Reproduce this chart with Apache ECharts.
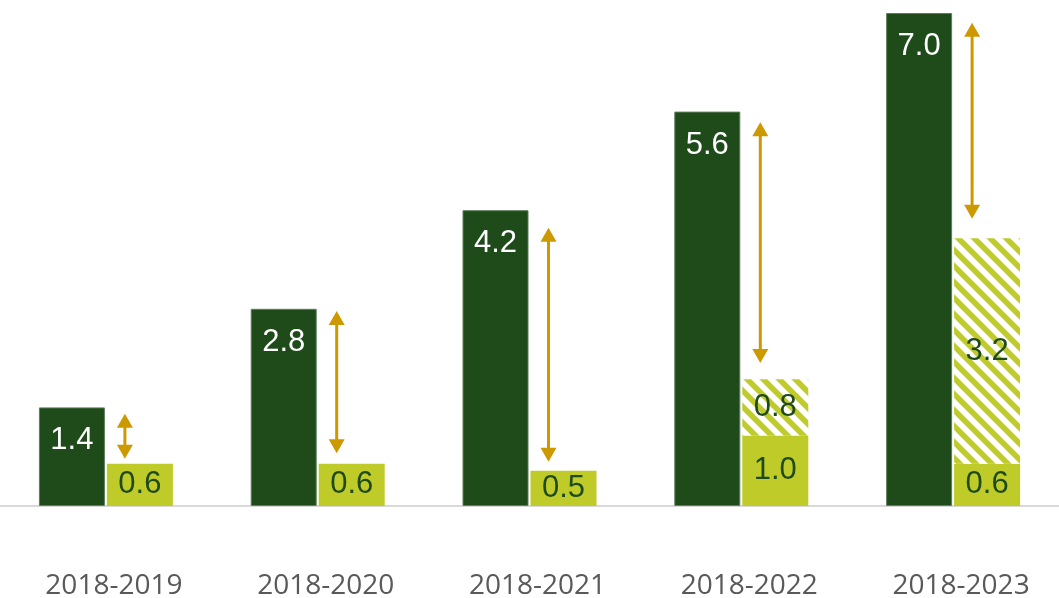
<!DOCTYPE html>
<html>
<head>
<meta charset="utf-8">
<script src="https://cdn.jsdelivr.net/npm/echarts@6/dist/echarts.min.js"></script>
<style>
html,body{margin:0;padding:0;background:#fff;}
#chart{width:1059px;height:598px;}
</style>
</head>
<body>
<div id="chart"></div>
<script>
// ---- data ----
var categories = ['2018-2019', '2018-2020', '2018-2021', '2018-2022', '2018-2023'];
var darkValues = [1.4, 2.8, 4.2, 5.6, 7.0];
var lightValues = [0.6, 0.6, 0.5, 1.0, 0.6];
var hatchedValues = [null, null, null, 0.8, 3.2];
// arrow annotations (value units): from top end to bottom end
var arrowTop = [1.31, 2.77, 3.95, 5.45, 6.86];
var arrowBottom = [0.67, 0.75, 0.63, 2.03, 4.08];

// ---- styles ----
var DARK = '#1F4B1B';
var LIGHT = '#BFCB29';
var GOLD = '#CC9900';

function hatchPattern() {
  var s = 16;
  var c = document.createElement('canvas');
  c.width = s; c.height = s;
  var ctx = c.getContext('2d');
  ctx.fillStyle = '#ffffff';
  ctx.fillRect(0, 0, s, s);
  ctx.strokeStyle = LIGHT;
  ctx.lineWidth = 5.5;
  [-s, 0, s].forEach(function (k) {
    ctx.beginPath();
    ctx.moveTo(-s, -s + k);
    ctx.lineTo(2 * s, 2 * s + k);
    ctx.stroke();
  });
  return c;
}

var arrowData = categories.map(function (c, i) { return [i, arrowTop[i], arrowBottom[i]]; });

var chart = echarts.init(document.getElementById('chart'), null, {renderer: 'canvas'});
var valueLabelFont = {fontFamily: 'Liberation Sans', fontSize: 31};

var option = {
  animation: false,
  backgroundColor: '#ffffff',
  grid: {left: 0, right: 0, top: 13, bottom: 92, containLabel: false, outerBoundsMode: 'none'},
  xAxis: {
    type: 'category',
    data: categories,
    axisLine: {show: true, lineStyle: {color: '#D9D9D9', width: 2}},
    axisTick: {show: false},
    axisLabel: {color: '#595959', fontFamily: 'Open Sans', fontSize: 28, margin: 66,
      padding: [0, 0, 0, 16]}
  },
  yAxis: {
    type: 'value', min: 0, max: 7,
    show: false,
    splitLine: {show: false}
  },
  series: [
    {
      name: 'dark', type: 'bar', data: darkValues,
      barWidth: 66, barGap: '3%',
      itemStyle: {color: DARK, borderColor: '#5E7D5B', borderWidth: 1},
      label: Object.assign({show: true, position: 'insideTop', distance: 18, color: '#ffffff',
        formatter: function (p) { return p.value.toFixed(1); }}, valueLabelFont)
    },
    {
      name: 'light', type: 'bar', data: lightValues, stack: 'light',
      barWidth: 66,
      itemStyle: {color: LIGHT},
      label: Object.assign({show: true, position: 'inside', color: DARK,
        formatter: function (p) { return p.value.toFixed(1); }}, valueLabelFont)
    },
    {
      name: 'hatched', type: 'bar', data: hatchedValues, stack: 'light',
      barWidth: 66,
      itemStyle: {color: {image: hatchPattern(), repeat: 'repeat'}},
      label: Object.assign({show: true, position: 'inside', color: DARK,
        formatter: function (p) { return p.value == null ? '' : p.value.toFixed(1); }}, valueLabelFont)
    },
    {
      name: 'arrows', type: 'custom', data: arrowData, z: 10,
      renderItem: function (params, api) {
        var i = api.value(0);
        var p1 = api.coord([i, api.value(1)]);
        var p2 = api.coord([i, api.value(2)]);
        var x = p1[0] + 19;
        var y1 = p1[1], y2 = p2[1];
        var hw = 8, hh = 14;
        return {
          type: 'group',
          children: [
            {type: 'line', shape: {x1: x, y1: y1 + hh - 1, x2: x, y2: y2 - hh + 1},
              style: {stroke: GOLD, lineWidth: 3}},
            {type: 'polygon', shape: {points: [[x, y1], [x - hw, y1 + hh], [x + hw, y1 + hh]]},
              style: {fill: GOLD}},
            {type: 'polygon', shape: {points: [[x, y2], [x - hw, y2 - hh], [x + hw, y2 - hh]]},
              style: {fill: GOLD}}
          ]
        };
      }
    }
  ]
};
chart.setOption(option);
</script>
</body>
</html>
